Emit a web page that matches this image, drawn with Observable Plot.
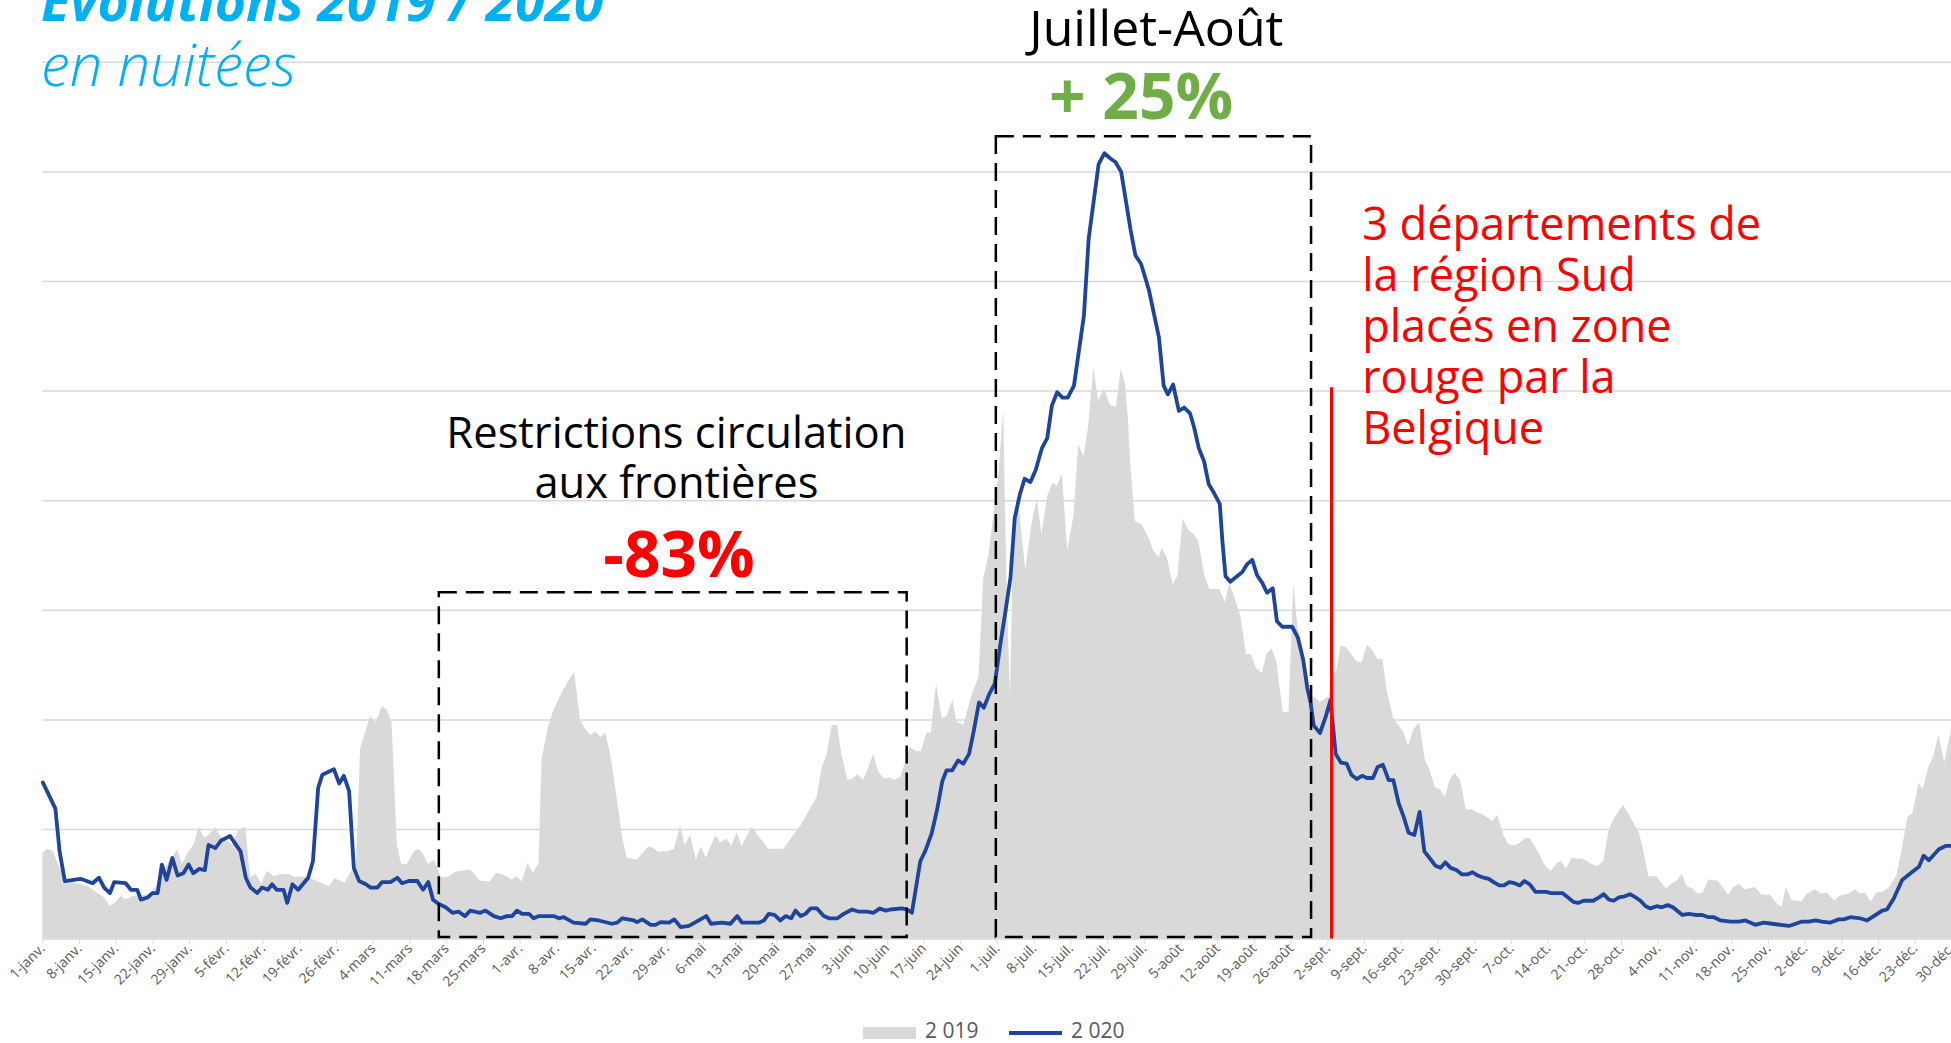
<!DOCTYPE html>
<html>
<head>
<meta charset="utf-8">
<script src="https://cdn.jsdelivr.net/npm/d3@7"></script>
<script src="https://cdn.jsdelivr.net/npm/@observablehq/plot@0.6"></script>
<style>
html, body { margin:0; padding:0; background:#fff; overflow:hidden; width:1951px; height:1043px; }
#wrap { position:relative; width:1951px; height:1043px; font-family:"Open Sans", sans-serif; overflow:hidden; }
#chart { position:absolute; left:0; top:0; }
.title { position:absolute; left:41px; color:#00b0f0; white-space:nowrap; line-height:1; }
#t1 { top:-26px; font-size:53.5px; font-weight:700; font-style:italic; }
#t2 { top:35px; font-size:58px; font-weight:300; font-style:italic; }
#legend { position:absolute; left:0; top:1020px; width:1951px; height:24px; color:#595959; font-size:21px; }
#legend .sw { position:absolute; }
#legend .lb { position:absolute; top:-2px; line-height:24px; }
</style>
</head>
<body>
<div id="wrap">
  <div id="chart"></div>
  <div class="title" id="t1">Evolutions 2019 / 2020</div>
  <div class="title" id="t2">en nuitées</div>
  <div id="legend">
    <div class="sw" style="left:863px;top:7px;width:53px;height:12px;background:#d9d9d9"></div>
    <div class="lb" style="left:925px">2 019</div>
    <div class="sw" style="left:1009px;top:11px;width:53px;height:4px;background:#1f449c"></div>
    <div class="lb" style="left:1071px">2 020</div>
  </div>
</div>
<script>
// ---- Data (day index from 1 Jan; value in gridline units) ----
const days2019 = [0,0.9,2.0,3.0,4.3,7.0,9.0,10.7,11.7,12.8,13.9,14.9,15.8,17.4,18.7,20.3,21.6,22.9,25.7,26.6,27.9,28.9,29.8,30.8,31.8,32.9,34.0,36.2,37.4,38.7,39.6,40.7,41.7,42.8,44.1,45.4,47.0,48.2,49.2,50.8,52.5,54.7,55.7,57.6,58.9,59.8,60.6,62.5,63.6,64.7,65.7,66.6,67.6,68.4,69.5,70.8,71.6,72.5,73.5,74.7,76.0,77.2,78.8,81.4,82.2,83.4,85.3,86.5,87.9,89.5,90.4,91.4,92.5,93.5,94.6,95.2,96.5,97.4,99.0,100.6,101.4,102.5,103.5,104.5,105.4,106.5,107.3,108.2,109.2,110.5,111.4,113.3,115.5,116.5,117.4,119.4,120.4,121.6,122.5,123.5,124.6,125.5,126.5,128.3,129.3,130.4,131.4,132.4,133.3,135.2,138.4,141.3,142.2,144.5,146.4,147.6,148.6,149.5,150.5,151.5,152.4,153.5,154.5,155.4,156.5,157.5,158.4,159.4,160.5,161.6,162.4,163.5,164.5,165.4,166.6,167.5,168.6,169.4,170.4,171.5,172.4,173.5,174.3,175.6,177.2,178.5,179.4,180.4,181.3,182.3,183.2,183.9,184.5,185.1,186.1,187.4,188.6,189.6,190.5,191.6,192.6,193.4,194.4,195.4,196.6,197.5,198.5,199.4,200.4,201.3,202.4,203.5,204.7,205.6,206.4,207.0,207.4,208.3,209.6,210.9,211.8,212.8,213.4,214.4,215.5,216.4,217.4,218.5,219.5,220.4,221.5,222.5,224.4,225.5,226.3,228.4,229.5,230.4,231.4,232.5,233.4,234.4,235.3,236.5,237.6,238.5,239.3,240.1,241.4,242.3,243.6,245.2,246.0,246.8,247.5,248.6,250.5,251.5,252.6,253.6,254.5,255.5,256.3,257.5,258.5,259.5,260.4,261.4,262.5,263.6,264.6,265.5,266.5,267.4,268.4,269.3,270.3,271.4,272.5,273.5,274.4,275.4,276.5,277.4,278.6,279.5,280.6,281.6,282.5,283.5,284.6,285.5,286.6,287.6,288.6,289.5,290.5,291.6,292.5,293.5,294.4,295.4,296.5,297.6,298.6,299.5,300.5,301.4,302.4,303.3,304.4,305.2,306.2,307.7,308.5,309.6,310.6,311.6,312.6,313.5,314.6,315.6,316.6,317.6,319.4,320.5,321.4,322.4,323.4,324.6,326.5,327.8,329.4,330.7,331.6,332.4,333.5,335.4,336.4,338.0,339.2,340.2,341.6,342.7,344.3,345.6,346.6,347.5,348.6,349.7,351.0,352.3,353.5,354.5,355.6,356.6,357.7,358.5,359.6,360.5,361.5,362.6,363.9];
const vals2019 = [0.78,0.82,0.80,0.68,0.53,0.50,0.47,0.41,0.38,0.30,0.33,0.39,0.36,0.39,0.39,0.41,0.47,0.62,0.81,0.68,0.80,0.86,1.02,0.92,0.95,1.02,0.93,0.86,0.99,1.02,0.56,0.59,0.50,0.62,0.57,0.59,0.59,0.56,0.57,0.56,0.52,0.48,0.55,0.51,0.62,0.68,1.74,2.03,1.97,2.12,2.09,1.97,0.86,0.68,0.68,0.79,0.82,0.78,0.68,0.72,0.56,0.56,0.61,0.63,0.60,0.53,0.52,0.60,0.58,0.54,0.57,0.52,0.69,0.60,0.69,1.64,1.95,2.08,2.24,2.38,2.43,2.00,1.91,1.86,1.89,1.84,1.88,1.70,1.39,0.94,0.74,0.72,0.84,0.83,0.79,0.80,0.82,1.03,0.85,0.95,0.72,0.84,0.74,0.94,0.88,0.91,0.85,0.97,0.84,1.02,0.82,0.82,0.88,1.03,1.19,1.29,1.56,1.68,1.95,1.95,1.67,1.45,1.46,1.50,1.45,1.56,1.69,1.52,1.46,1.47,1.45,1.47,1.61,1.75,1.71,1.71,1.88,1.88,2.33,2.01,2.03,2.18,1.98,1.95,2.23,2.39,3.29,3.50,3.86,4.25,4.82,3.08,2.21,3.69,3.97,3.37,3.78,4.02,3.69,4.04,4.16,4.13,4.24,3.54,3.86,4.51,4.40,4.67,5.22,4.91,5.02,4.87,4.85,5.20,5.07,4.73,4.35,3.81,3.78,3.66,3.54,3.48,3.56,3.48,3.23,3.31,3.83,3.73,3.69,3.63,3.32,3.19,3.19,3.07,3.25,2.95,2.59,2.60,2.47,2.42,2.60,2.65,2.52,2.07,2.07,3.24,2.85,2.62,2.26,2.21,2.16,2.21,2.39,2.46,2.67,2.66,2.53,2.52,2.68,2.63,2.55,2.55,2.27,2.02,1.95,1.89,1.76,1.91,1.97,1.63,1.53,1.38,1.36,1.29,1.46,1.51,1.45,1.18,1.18,1.15,1.14,1.11,1.07,1.13,0.94,0.86,0.85,0.87,0.91,0.92,0.84,0.76,0.66,0.62,0.68,0.71,0.64,0.74,0.73,0.73,0.71,0.68,0.66,0.71,0.98,1.09,1.16,1.22,1.14,1.06,0.97,0.81,0.57,0.57,0.52,0.46,0.50,0.53,0.59,0.48,0.46,0.41,0.42,0.54,0.53,0.46,0.40,0.47,0.50,0.45,0.47,0.40,0.40,0.32,0.29,0.47,0.35,0.34,0.41,0.45,0.41,0.42,0.35,0.39,0.41,0.45,0.41,0.42,0.34,0.42,0.43,0.48,0.58,0.81,1.11,1.15,1.42,1.36,1.57,1.66,1.86,1.61,1.90];

const days2020 = [0,2.4,3.2,4.2,7.2,9.5,10.7,11.7,12.8,13.6,15.8,16.8,18.0,18.7,20.0,20.9,21.9,22.7,23.6,24.7,25.7,26.8,27.8,28.7,29.8,30.9,31.6,32.9,34.0,35.7,37.7,38.7,39.6,40.9,41.8,42.9,43.7,44.6,45.9,46.6,47.6,48.7,50.6,51.5,52.5,53.3,55.5,56.5,57.4,58.4,59.3,60.3,61.6,62.5,63.8,64.7,66.3,67.6,68.5,69.8,71.4,72.5,73.5,74.4,75.5,76.8,78.1,79.3,80.5,81.5,83.4,84.4,86.0,87.3,88.5,89.5,90.4,91.4,92.7,93.6,94.6,97.4,98.4,99.3,101.2,103.5,104.4,106.0,108.5,109.5,110.5,112.7,113.3,114.3,115.9,116.8,117.8,119.4,120.4,121.6,123.2,125.4,126.5,127.4,129.5,131.1,132.4,133.3,136.5,137.5,138.4,139.5,140.6,141.6,142.7,143.5,144.5,145.4,146.4,147.6,148.9,149.9,151.5,152.7,154.3,155.6,157.2,158.4,159.6,160.7,161.6,163.8,164.8,165.7,167.3,168.3,169.5,170.5,171.5,172.3,173.4,174.5,175.5,176.6,177.5,178.5,179.4,180.4,181.5,182.5,183.6,184.5,185.3,186.3,187.2,188.3,189.3,190.5,191.5,192.4,193.4,194.4,195.4,196.6,198.5,199.4,201.3,202.4,203.6,204.5,205.6,207.4,208.3,209.4,210.9,212.8,213.7,214.5,215.5,216.6,217.6,218.7,219.5,220.4,221.4,222.3,223.3,224.4,224.9,225.5,226.4,227.4,228.7,229.6,230.6,231.5,232.5,233.4,234.5,235.3,236.3,238.2,239.3,240.3,241.1,241.7,242.3,243.5,244.6,245.5,246.5,247.5,248.6,249.5,250.5,251.5,252.5,253.6,254.5,255.5,256.6,257.5,258.5,259.5,260.4,261.5,262.5,263.4,264.4,265.5,266.5,267.4,268.4,269.5,270.6,271.6,272.6,273.6,274.7,275.7,276.6,277.7,278.6,279.6,280.6,281.6,282.5,283.5,284.6,285.5,286.6,287.6,288.7,289.7,290.8,291.8,292.7,293.8,294.8,295.6,296.7,297.6,298.6,299.5,300.5,301.6,302.6,303.7,304.6,305.6,306.5,307.7,308.7,309.8,310.8,312.6,313.8,315.1,316.4,317.6,318.6,319.9,321.8,323.4,324.6,326.5,328.1,329.7,331.3,332.9,334.2,335.4,336.7,338.0,339.2,340.7,342.4,343.4,344.6,346.5,347.8,349.1,350.7,351.6,352.9,354.5,356.1,357.7,358.6,359.6,361.5,362.8,363.9];
const vals2020 = [1.43,1.19,0.80,0.53,0.55,0.51,0.56,0.47,0.42,0.52,0.51,0.45,0.45,0.36,0.38,0.42,0.42,0.68,0.54,0.74,0.58,0.60,0.68,0.60,0.64,0.63,0.86,0.83,0.90,0.94,0.80,0.56,0.47,0.42,0.47,0.45,0.50,0.45,0.45,0.33,0.50,0.45,0.56,0.71,1.38,1.50,1.55,1.42,1.49,1.35,0.65,0.53,0.50,0.47,0.47,0.52,0.52,0.56,0.51,0.53,0.53,0.45,0.52,0.36,0.32,0.29,0.24,0.25,0.21,0.26,0.24,0.26,0.21,0.19,0.21,0.21,0.26,0.23,0.23,0.19,0.21,0.21,0.19,0.20,0.15,0.14,0.18,0.17,0.14,0.15,0.19,0.17,0.155,0.18,0.13,0.13,0.155,0.15,0.18,0.11,0.12,0.18,0.21,0.14,0.15,0.14,0.21,0.15,0.15,0.17,0.23,0.22,0.17,0.21,0.19,0.26,0.21,0.23,0.28,0.28,0.21,0.19,0.19,0.23,0.27,0.25,0.25,0.24,0.28,0.26,0.27,0.28,0.27,0.24,0.71,0.81,0.97,1.18,1.44,1.54,1.54,1.63,1.60,1.69,1.90,2.16,2.11,2.23,2.33,2.67,3.01,3.30,3.84,4.06,4.20,4.17,4.28,4.48,4.57,4.87,4.99,4.94,4.94,5.05,5.69,6.39,7.07,7.17,7.12,7.09,7.00,6.47,6.24,6.16,5.92,5.49,5.05,4.97,5.06,4.82,4.85,4.80,4.67,4.48,4.36,4.15,4.07,3.97,3.63,3.31,3.26,3.30,3.35,3.42,3.46,3.32,3.25,3.16,3.20,2.90,2.85,2.85,2.75,2.55,2.29,2.16,1.95,1.88,2.03,2.18,1.69,1.61,1.60,1.50,1.46,1.49,1.47,1.47,1.57,1.59,1.45,1.45,1.24,1.11,0.97,0.95,1.16,0.80,0.74,0.67,0.65,0.70,0.65,0.63,0.59,0.59,0.61,0.58,0.56,0.55,0.52,0.49,0.49,0.52,0.51,0.49,0.53,0.50,0.43,0.43,0.43,0.42,0.42,0.42,0.38,0.34,0.33,0.35,0.35,0.35,0.38,0.41,0.36,0.35,0.38,0.39,0.41,0.38,0.35,0.30,0.28,0.30,0.29,0.31,0.29,0.22,0.23,0.22,0.22,0.20,0.20,0.17,0.16,0.16,0.17,0.13,0.15,0.14,0.13,0.12,0.14,0.16,0.16,0.17,0.16,0.15,0.18,0.18,0.20,0.19,0.17,0.21,0.26,0.27,0.37,0.54,0.60,0.66,0.76,0.72,0.82,0.85,0.85];

const tickDays = [0,7,14,21,28,35,42,49,56,63,70,77,84,91,98,105,112,119,126,133,140,147,154,161,168,175,182,189,196,203,210,217,224,231,238,245,252,259,266,273,280,287,294,301,308,315,322,329,336,343,350,357,364];
const tickLabels = ["1-janv.","8-janv.","15-janv.","22-janv.","29-janv.","5-févr.","12-févr.","19-févr.","26-févr.","4-mars","11-mars","18-mars","25-mars","1-avr.","8-avr.","15-avr.","22-avr.","29-avr.","6-mai","13-mai","20-mai","27-mai","3-juin","10-juin","17-juin","24-juin","1-juil.","8-juil.","15-juil.","22-juil.","29-juil.","5-août","12-août","19-août","26-août","2-sept.","9-sept.","16-sept.","23-sept.","30-sept.","7-oct.","14-oct.","21-oct.","28-oct.","4-nov.","11-nov.","18-nov.","25-nov.","2-déc.","9-déc.","16-déc.","23-déc.","30-déc."];
const gridValues = [1,2,3,4,5,6,7,8];

// Annotation boxes and marker (data coordinates)
const boxes = [
  {x1:75.6, x2:164.8, y1:0.015, y2:3.16},
  {x1:181.8, x2:241.9, y1:0.015, y2:7.32}
];
const marker = [{day:245.7, y1:0, y2:5.03}];
const restrNote = [{day:120.8, v:4.027, text:"Restrictions circulation\naux frontières"}];
const summerNote = [{day:212.3, v:8.153, text:"Juillet-Août"}];
const redBig = [{day:121.3, v:3.302, text:"-83%"}];
const greenBig = [{day:209.4, v:7.484, text:"+ 25%"}];
const redNote = [{day:251.55, v:4.519, text:"3 départements de\nla région Sud\nplacés en zone\nrouge par la\nBelgique"}];

// ---- Build ----
const s2019 = days2019.map((d, i) => ({day:d, v:vals2019[i]}));
const s2020 = days2020.map((d, i) => ({day:d, v:vals2020[i]}));
const labelByDay = new Map(tickDays.map((d, i) => [d, tickLabels[i]]));

const X0 = 42.3, PXDAY = 5.245, YB = 938.6, YT = 61.8;
const chart = Plot.plot({
  width: 1951, height: 1043,
  marginTop: YT, marginBottom: 1043 - YB, marginLeft: X0, marginRight: 0,
  x: {domain:[0, 365], range:[X0, X0 + 365 * PXDAY]},
  y: {domain:[0, 8], range:[YB, YT], axis:null},
  style: {fontFamily:"Open Sans, sans-serif", background:"white", overflow:"hidden"},
  marks: [
    Plot.gridY(gridValues, {stroke:"#d9d9d9", strokeOpacity:1, strokeWidth:1.5}),
    Plot.areaY(s2019, {x:"day", y:"v", fill:"#d9d9d9"}),
    Plot.ruleY([0], {stroke:"#d9d9d9", strokeWidth:1.5}),
    Plot.lineY(s2020, {x:"day", y:"v", stroke:"#1f449c", strokeWidth:3.8, strokeLinejoin:"round"}),
    Plot.axisX(tickDays, {tickFormat: d => labelByDay.get(d), tickRotate:-45, tickSize:5, tickPadding:2,
      fontSize:14, stroke:"#d9d9d9", fill:"#595959", label:null}),
    Plot.rect(boxes, {x1:"x1", x2:"x2", y1:"y1", y2:"y2", fill:"none", stroke:"black", strokeWidth:2.5, strokeDasharray:"18,9"}),
    Plot.ruleX(marker, {x:"day", y1:"y1", y2:"y2", stroke:"#ff0000", strokeWidth:3}),
    Plot.text(restrNote, {x:"day", y:"v", text:"text", lineAnchor:"bottom", lineHeight:1.155, fontSize:43.5, fill:"black", textAnchor:"middle"}),
    Plot.text(summerNote, {x:"day", y:"v", text:"text", lineAnchor:"bottom", fontSize:50, fill:"black", textAnchor:"middle"}),
    Plot.text(redBig, {x:"day", y:"v", text:"text", lineAnchor:"bottom", fontSize:64, fontWeight:"bold", fill:"#ff0000", textAnchor:"middle"}),
    Plot.text(greenBig, {x:"day", y:"v", text:"text", lineAnchor:"bottom", fontSize:64, fontWeight:"bold", fill:"#70ad47", textAnchor:"middle"}),
    Plot.text(redNote, {x:"day", y:"v", text:"text", lineAnchor:"bottom", lineHeight:1.13, fontSize:45, fill:"#ff0000", textAnchor:"start"})
  ]
});
document.getElementById("chart").appendChild(chart);
</script>
</body>
</html>
